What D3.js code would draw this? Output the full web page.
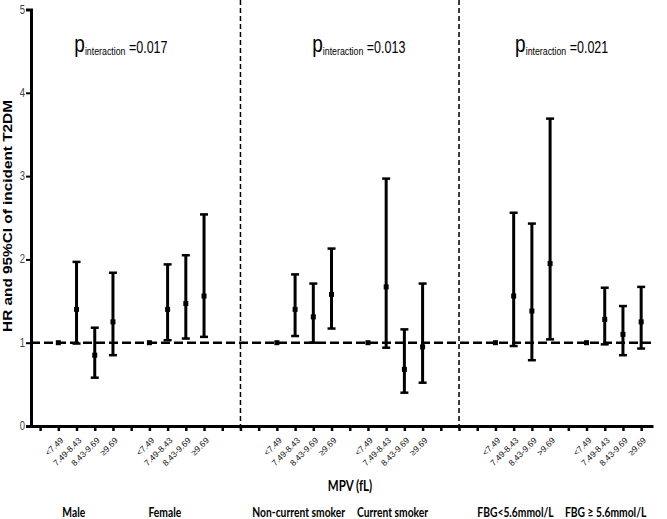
<!DOCTYPE html>
<html><head><meta charset="utf-8">
<script src="https://cdn.jsdelivr.net/npm/d3@7"></script>
<style>
body{margin:0;background:#fff;}
svg{display:block;}
</style></head>
<body>
<svg id="chart" width="667" height="519"></svg>
<script>
// ---- data ----
const groups = ["Male","Female","Non-current smoker","Current smoker","FBG<5.6mmol/L","FBG \u2265 5.6mmol/L"];
const categories = ["<7.49","7.49-8.43","8.43-9.69","\u22659.69"];
const categoriesFBGlow = ["<7.49","7.49-8.43","8.43-9.69",">9.69"];
const hr    = [[1.00,1.40,0.85,1.25],[1.00,1.40,1.47,1.56],[1.00,1.40,1.31,1.58],[1.00,1.67,0.68,0.95],[1.00,1.56,1.38,1.95],[1.00,1.28,1.10,1.25]];
const lower = [[1.00,0.99,0.58,0.85],[1.00,1.03,1.05,1.07],[1.00,1.08,1.00,1.17],[1.00,0.94,0.40,0.52],[1.00,0.96,0.79,1.04],[1.00,0.98,0.85,0.93]];
const upper = [[1.00,1.97,1.18,1.84],[1.00,1.94,2.05,2.54],[1.00,1.82,1.71,2.13],[1.00,2.97,1.16,1.71],[1.00,2.56,2.43,3.69],[1.00,1.66,1.44,1.67]];
const pValues = ["0.017","0.013","0.021"];
const yTicks = [0,1,2,3,4,5];
const yTitle = "HR and 95%CI of incident T2DM";
const xTitle = "MPV (fL)";

// ---- layout ----
const svg = d3.select("#chart");
const nSlots = 34;
const x = d3.scaleLinear().domain([-0.5, 33.65]).range([31, 653]);
const y = d3.scaleLinear().domain([0,5]).range([426, 9.5]);
const slotOf = (g, c) => 1 + Math.floor(g/2)*12 + (g%2)*5 + c;
const stretch = 1.28; // vertical stretch of text in the original figure
const pStart = [1.88, 14.94, 26.08]; // slot positions where p labels start
const groupLabelShift = [-0.65, -0.65, -0.3, -0.15, -0.4, -0.45];

// flatten
const points = [];
groups.forEach((g,gi)=>{
  const cats = gi===4 ? categoriesFBGlow : categories;
  cats.forEach((c,ci)=>{
    points.push({slot:slotOf(gi,ci), label:c, hr:hr[gi][ci], lo:lower[gi][ci], hi:upper[gi][ci]});
  });
});
const labelBySlot = new Map(points.map(p=>[p.slot,p.label]));

// dividers
[11,23].forEach(s=>{
  svg.append("line").attr("x1",x(s)).attr("x2",x(s)).attr("y1",0).attr("y2",y(0)+4)
    .attr("stroke","#000").attr("stroke-width",1.5).attr("stroke-dasharray","5,3");
});

// reference line
svg.append("line").attr("x1",x(-0.5)).attr("x2",x(33.65)).attr("y1",y(1)).attr("y2",y(1))
  .attr("stroke","#000").attr("stroke-width",2.5).attr("stroke-dasharray","9,4");

// error bars
const eb = svg.append("g");
const capW = 4;
points.forEach(p=>{
  const cx = x(p.slot);
  if (p.hi > p.lo) {
    eb.append("line").attr("x1",cx).attr("x2",cx).attr("y1",y(p.lo)).attr("y2",y(p.hi))
      .attr("stroke","#000").attr("stroke-width",3);
    [p.lo,p.hi].forEach(v=>{
      eb.append("line").attr("x1",cx-capW).attr("x2",cx+capW).attr("y1",y(v)).attr("y2",y(v))
        .attr("stroke","#000").attr("stroke-width",2.5);
    });
  }
  eb.append("rect").attr("x",cx-2.5).attr("y",y(p.hr)-2.5).attr("width",5).attr("height",5).attr("fill","#000");
});

// y axis
const yAxis = svg.append("g").attr("transform",`translate(${x(-0.5)},0)`)
  .call(d3.axisLeft(y).tickValues(yTicks).tickFormat(d3.format("d")).tickSize(5).tickPadding(1));
yAxis.select(".domain").attr("stroke-width",3);
yAxis.selectAll(".tick line").attr("stroke-width",2);
yAxis.selectAll(".tick text").attr("font-family","Liberation Sans, Arial, sans-serif").attr("font-size",9.5).attr("fill","#444")
  .attr("dy",null).attr("transform",`translate(0,3.5) scale(1,${stretch})`).attr("y",0);

// x axis
const xAxis = svg.append("g").attr("transform",`translate(0,${y(0)})`)
  .call(d3.axisBottom(x).tickValues(d3.range(nSlots)).tickFormat(d=>labelBySlot.get(d)||"").tickSize(5).tickSizeOuter(0));
xAxis.select(".domain").attr("stroke-width",3);
xAxis.selectAll(".tick line").attr("stroke-width",2.5);
xAxis.selectAll(".tick text")
  .attr("font-family","Liberation Sans, Arial, sans-serif").attr("font-size",8.5).attr("fill","#111")
  .attr("text-anchor","end").attr("dy",0).attr("y",0)
  .attr("transform","translate(5,15) rotate(-45)");

// y title
svg.append("text").attr("transform",`translate(12,216) rotate(-90) scale(${stretch},1)`)
  .attr("text-anchor","middle").attr("font-family","Liberation Sans, Arial, sans-serif")
  .attr("font-weight","bold").attr("font-size",12).text(yTitle);

// x title
svg.append("text").attr("transform",`translate(350,491) scale(1,${stretch})`).attr("text-anchor","middle")
  .attr("font-family","Lato, sans-serif").attr("font-weight","bold").attr("font-size",11.5).text(xTitle);

// group labels
groups.forEach((g,gi)=>{
  const cx = x((slotOf(gi,0) + slotOf(gi,3))/2 + groupLabelShift[gi]);
  svg.append("text").attr("transform",`translate(${cx},517) scale(1,${stretch})`).attr("text-anchor","middle")
    .attr("font-family","Lato, sans-serif").attr("font-weight","bold").attr("font-size",10.3).text(g);
});

// p interaction labels
pValues.forEach((pv,i)=>{
  const t = svg.append("text").attr("transform",`translate(${x(pStart[i])},52) scale(1,${stretch})`)
    .attr("font-family","Liberation Sans, Arial, sans-serif");
  t.append("tspan").attr("font-size",19).text("p");
  t.append("tspan").attr("font-size",8.8).attr("dy",2.5).text("interaction");
  t.append("tspan").attr("font-size",12.5).attr("dy",-1.5).text(" =" + pv);
});
</script>
</body></html>
